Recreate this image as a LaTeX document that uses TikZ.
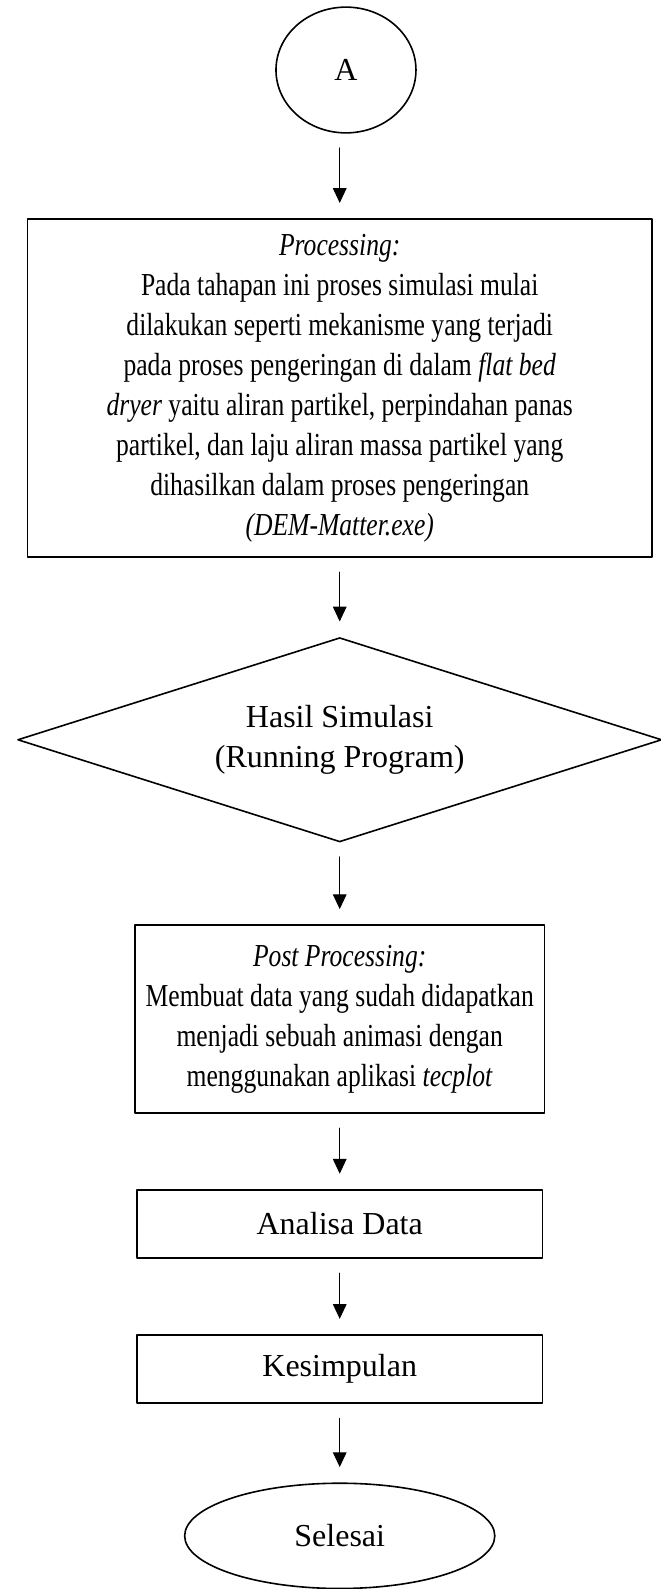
\documentclass[tikz,border=0pt]{standalone}
\usepackage{fontspec}
\setmainfont{Liberation Serif}
\newfontfamily\sempit[FakeStretch=0.8]{Liberation Serif}
\usetikzlibrary{arrows.meta}
\usetikzlibrary{positioning}
\usetikzlibrary{shapes.geometric}

\begin{document}
\begin{tikzpicture}[line cap=round, line join=round,
		every node/.style={font=\fontsize{16}{20}\selectfont},
		blok/.style={draw, line width=0.8pt, rectangle, align=center, inner sep=0pt},
		bloksempit/.style={blok, font=\fontsize{16}{20}\sempit},
		terminal/.style={draw, line width=0.8pt, ellipse, inner sep=0pt},
		keputusan/.style={draw, line width=0.8pt, diamond, aspect=3, inner sep=0pt, align=center},
		panah/.style={line width=0.5pt, -{Triangle[length=0.26cm,width=0.24cm]}, shorten <=0.25cm, shorten >=0.27cm}]
		\useasboundingbox (0,0) rectangle (11.616,-27.924);
		% alur simulasi
		\node[terminal, minimum width=2.46cm, minimum height=2.21cm] (a) at (6.08,-1.23) {A};
		\node[bloksempit, minimum width=10.98cm, minimum height=5.94cm] (proc) at (5.97,-6.82)
			{\textit{Processing:}\\ Pada tahapan ini proses simulasi mulai\\ dilakukan seperti mekanisme yang terjadi\\
			 pada proses pengeringan di dalam \textit{flat bed}\\ \textit{dryer} yaitu aliran partikel, perpindahan panas\\
			 partikel, dan laju aliran massa partikel yang\\ dihasilkan dalam proses pengeringan\\ \textit{(DEM-Matter.exe)}};
		\node[keputusan, minimum width=11.32cm, minimum height=3.59cm] (hasil) at (5.97,-13.0)
			{Hasil Simulasi\\ (Running Program)};
		\node[bloksempit, minimum width=7.2cm, minimum height=3.3cm] (post) at (5.97,-17.91)
			{\textit{Post Processing:}\\ Membuat data yang sudah didapatkan\\ menjadi sebuah animasi dengan\\
			 menggunakan aplikasi \textit{tecplot}};
		\node[blok, minimum width=7.12cm, minimum height=1.2cm] (analisa) at (5.97,-21.51) {Analisa Data};
		\node[blok, minimum width=7.12cm, minimum height=1.2cm] (kesimpulan) at (5.97,-24.06) {Kesimpulan};
		\node[terminal, minimum width=5.45cm, minimum height=1.85cm] (selesai) at (5.97,-26.99) {Selesai};
		% panah
		\draw[panah] (proc.north |- a.south) -- (proc.north);
		\draw[panah] (proc) -- (hasil);
		\draw[panah] (hasil) -- (post);
		\draw[panah] (post) -- (analisa);
		\draw[panah] (analisa) -- (kesimpulan);
		\draw[panah] (kesimpulan) -- (selesai);
	\end{tikzpicture}
\end{document}
